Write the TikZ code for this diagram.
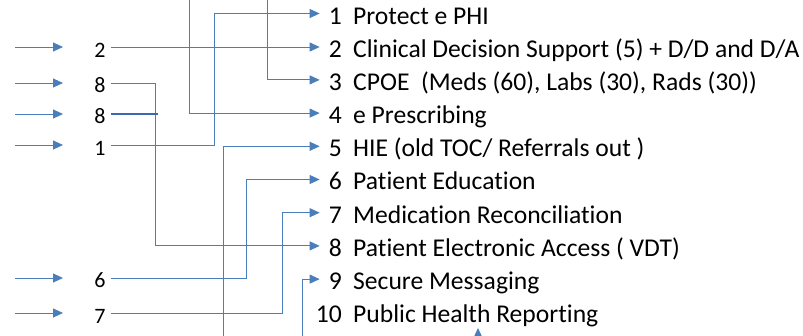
\documentclass[tikz,border=0pt]{standalone}
\usepackage{fontspec}
\setmainfont[Ligatures=NoCommon]{Carlito}
\usetikzlibrary{positioning,arrows.meta}
\definecolor{linkblue}{RGB}{74,126,187}
\definecolor{stubblue}{RGB}{60,105,175}

\begin{document}
\begin{tikzpicture}[x=1pt, y=-1pt,
  link/.style={draw=linkblue, line width=0.9pt},
  arrow/.style={link, -{Triangle[length=10pt,width=9pt]}},
  src/.style={font=\fontsize{22}{22}\selectfont, inner xsep=5pt, inner ysep=0pt, text height=20pt},
  num/.style={font=\fontsize{25.6}{25.6}\selectfont, anchor=east, inner xsep=9pt, inner ysep=0pt, text height=21pt},
  item/.style={font=\fontsize{25.6}{25.6}\selectfont, inner xsep=2pt, inner ysep=0pt}]

\clip (0,0) rectangle (803,335);

% measures on the right
\foreach \t [count=\i] in {Protect e PHI, Clinical Decision Support (5) + D/D and D/A,
    {CPOE\ \ (Meds (60), Labs (30), Rads (30))}, e Prescribing, HIE (old TOC/ Referrals out ),
    Patient Education, Medication Reconciliation, Patient Electronic Access ( VDT),
    Secure Messaging, Public Health Reporting}
{
  \node [num] (n\i) at (351,{13.5+33.2*(\i-1)}) {\i};
  \node [item, base right=0pt of n\i] (t\i) {\t};
}

% numbers on the left, each with its incoming arrow
\foreach \n/\y/\nm in {2/47/s2, 8/83/s8a, 8/114/s8b, 1/145/s1, 6/278/s6, 7/313/s7}
{
  \coordinate (in-\nm) at (15,\y);
  \draw [arrow] (in-\nm) -- ++(48,0);
  \node [src] (\nm) at (100,\y) {\n};
}

% bend columns and loose ends
\coordinate (col1) at (214,0);
\coordinate (col8) at (155,0);
\coordinate (col6) at (246,0);
\coordinate (col7) at (282,0);
\coordinate (stub) at (158,0);
\coordinate (top3) at (267,-5);
\coordinate (top4) at (189,-5);
\coordinate (bot5) at (223,340);
\coordinate (bot9) at (302,340);
\coordinate (bot10) at (478,350);

\draw [arrow] (s2.east) -- (s2.east -| n2.west);
\draw [arrow] (s1.east) -- (s1.east -| col1) |- (n1.west);
\draw [arrow] (s8a.east) -- (s8a.east -| col8) |- (n8.west);
\draw [arrow] (s6.east) -- (s6.east -| col6) |- (n6.west);
\draw [arrow] (s7.east) -- (s7.east -| col7) |- (n7.west);
\draw [draw=stubblue, line width=1.6pt] (s8b.east) -- (s8b.east -| stub);

\draw [arrow] (top3) |- (n3.west);
\draw [arrow] (top4) |- (n4.west);
\draw [arrow] (bot5) |- (n5.west);
\draw [arrow] (bot9) |- (n9.west);
\draw [arrow] (bot10) -- ++(0,-22);

\end{tikzpicture}
\end{document}
